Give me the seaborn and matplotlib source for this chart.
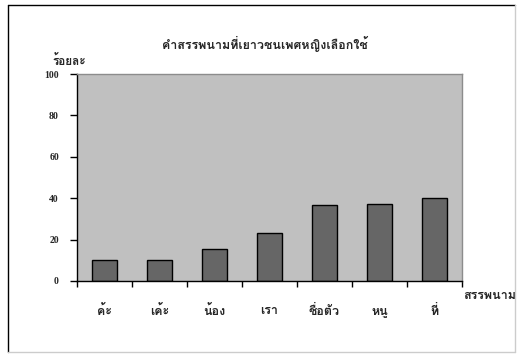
import matplotlib
matplotlib.use("Agg")
import matplotlib.pyplot as plt
import seaborn as sns
import pandas as pd
from matplotlib.lines import Line2D

# data
pronouns = ["ค้ะ", "เค้ะ", "น้อง", "เรา", "ชื่อตัว", "หนู", "ที่"]
percent = [10.1, 10.1, 15.5, 23.3, 36.7, 37.2, 40.0]
y_ticks = [0, 20, 40, 60, 80, 100]

title = "คำสรรพนามที่เยาวชนเพศหญิงเลือกใช้"
y_label = "ร้อยละ"
x_label = "สรรพนาม"

# Loma puts tone marks above the upper vowels without OpenType shaping
THAI = ["Loma", "DejaVu Sans"]

df = pd.DataFrame({"pronoun": pronouns, "percent": percent})

sns.set_style("white")
fig = plt.figure(figsize=(5.19, 3.62), dpi=100)
ax = fig.add_axes([77 / 519, 1 - 281 / 362, 385 / 519, 207 / 362])

sns.barplot(data=df, x="pronoun", y="percent", color="#666666",
            edgecolor="black", linewidth=1, width=0.44, saturation=1, ax=ax)
ax.set_facecolor("#c0c0c0")
ax.set_xlim(-0.5, len(pronouns) - 0.5)
ax.set_ylim(0, 100)
ax.set_xlabel("")
ax.set_ylabel("")

# y axis
ax.set_yticks(y_ticks)
ax.set_yticklabels([str(v) for v in y_ticks], family="Liberation Serif",
                   fontweight="bold", fontsize=7)
ax.tick_params(axis="y", direction="out", length=5, width=1, color="black", pad=8, left=True)

# x axis: ticks on category boundaries, labels at centres
ax.set_xticks([i - 0.5 for i in range(len(pronouns) + 1)])
ax.set_xticklabels([])
ax.tick_params(axis="x", which="major", direction="out", length=4, width=1, color="black", bottom=True)
ax.set_xticks(range(len(pronouns)), minor=True)
ax.set_xticklabels(pronouns, minor=True, family=THAI, fontweight="bold", fontsize=9)
ax.tick_params(axis="x", which="minor", length=0, pad=17)

for s in ["left", "bottom"]:
    ax.spines[s].set_color("black")
    ax.spines[s].set_linewidth(1)
for s in ["top", "right"]:
    ax.spines[s].set_color("#8c8c8c")
    ax.spines[s].set_linewidth(1)

fig.text(265 / 519, 1 - 44 / 362, title, ha="center", va="center",
         family=THAI, fontweight="bold", fontsize=9)
fig.text(52 / 519, 1 - 60 / 362, y_label, ha="left", va="center",
         family=THAI, fontweight="bold", fontsize=8.5)
fig.text(463 / 519, 1 - 296 / 362, x_label, ha="left", va="center",
         family=THAI, fontweight="bold", fontsize=9)

# outer frame
fx0, fx1 = 8 / 519, 515 / 519
fy0, fy1 = 1 - 352 / 362, 1 - 5 / 362
fig.add_artist(Line2D([fx0, fx0], [fy0, fy1], color="black", lw=1))
fig.add_artist(Line2D([fx0, fx1], [fy1, fy1], color="black", lw=1))
fig.add_artist(Line2D([fx1, fx1], [fy0, fy1], color="#cccccc", lw=1))
fig.add_artist(Line2D([fx0, fx1], [fy0, fy0], color="#cccccc", lw=1))

fig.savefig("out.png", dpi=100)
